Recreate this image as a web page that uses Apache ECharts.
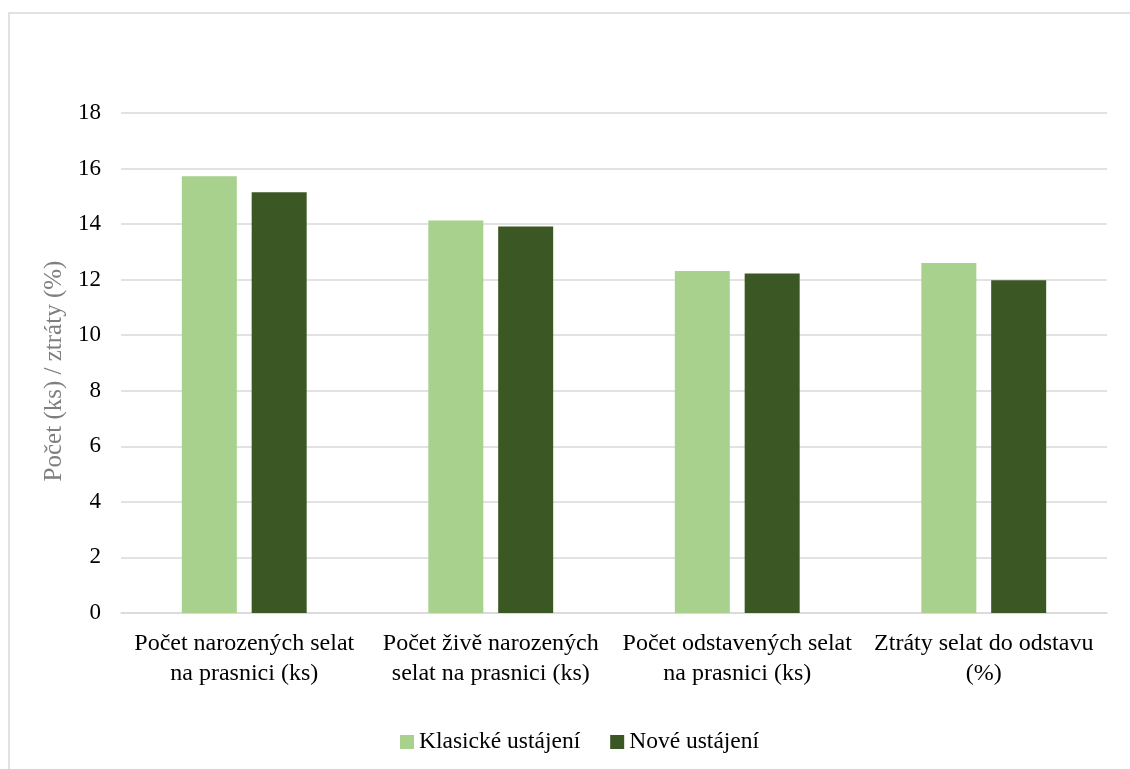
<!DOCTYPE html>
<html>
<head>
<meta charset="utf-8">
<script src="https://cdn.jsdelivr.net/npm/echarts@6/dist/echarts.min.js"></script>
<style>
  html, body { margin: 0; padding: 0; background: #ffffff; }
  #chart { width: 1130px; height: 769px; }
</style>
</head>
<body>
<div id="chart"></div>
<script>
// Ukazatele reprodukce prasnic podle typu ustájení
const categories = [
  'Počet narozených selat\nna prasnici (ks)',
  'Počet živě narozených\nselat na prasnici (ks)',
  'Počet odstavených selat\nna prasnici (ks)',
  'Ztráty selat do odstavu\n(%)'
];
const klasicke = [15.72, 14.13, 12.31, 12.60];
const nove = [15.15, 13.91, 12.22, 11.98];
const yTicks = [0, 2, 4, 6, 8, 10, 12, 14, 16, 18];

const font = '"Liberation Serif", "Times New Roman", serif';
const chart = echarts.init(document.getElementById('chart'), null, { renderer: 'canvas' });

chart.setOption({
  backgroundColor: '#ffffff',
  animation: false,
  textStyle: { fontFamily: font },
  graphic: [{
    type: 'rect',
    shape: { x: 9, y: 13, width: 1140, height: 780 },
    style: { fill: 'none', stroke: '#d9d9d9', lineWidth: 1.5 },
    silent: true
  }],
  grid: { left: 121, right: 23, top: 113, bottom: 156 },
  legend: {
    bottom: 10,
    left: 395,
    itemWidth: 14,
    itemHeight: 14,
    itemGap: 30,
    icon: 'rect',
    textStyle: { fontFamily: font, fontSize: 23.5, color: '#000000' },
    data: ['Klasické ustájení', 'Nové ustájení']
  },
  xAxis: {
    type: 'category',
    data: categories,
    axisLine: { show: true, lineStyle: { color: '#d9d9d9', width: 1.5 } },
    axisTick: { show: false },
    axisLabel: {
      interval: 0,
      margin: 16,
      fontFamily: font,
      fontSize: 24,
      color: '#000000',
      lineHeight: 30,
      align: 'center'
    }
  },
  yAxis: {
    type: 'value',
    min: yTicks[0],
    max: yTicks[yTicks.length - 1],
    interval: 2,
    name: 'Počet (ks) / ztráty (%)',
    nameLocation: 'middle',
    nameGap: 44,
    nameTextStyle: { fontFamily: font, fontSize: 25, color: '#7f7f7f', padding: [0, 16, 0, 0] },
    axisLine: { show: false },
    axisTick: { show: false },
    splitLine: { lineStyle: { color: '#d9d9d9', width: 1.5 } },
    axisLabel: { margin: 20, fontFamily: font, fontSize: 23, color: '#000000' }
  },
  series: [
    {
      name: 'Klasické ustájení',
      type: 'bar',
      data: klasicke,
      barWidth: 55,
      barGap: '27%',
      itemStyle: { color: '#a9d18e' }
    },
    {
      name: 'Nové ustájení',
      type: 'bar',
      data: nove,
      barWidth: 55,
      barGap: '27%',
      itemStyle: { color: '#3b5723' }
    }
  ]
});
</script>
</body>
</html>
